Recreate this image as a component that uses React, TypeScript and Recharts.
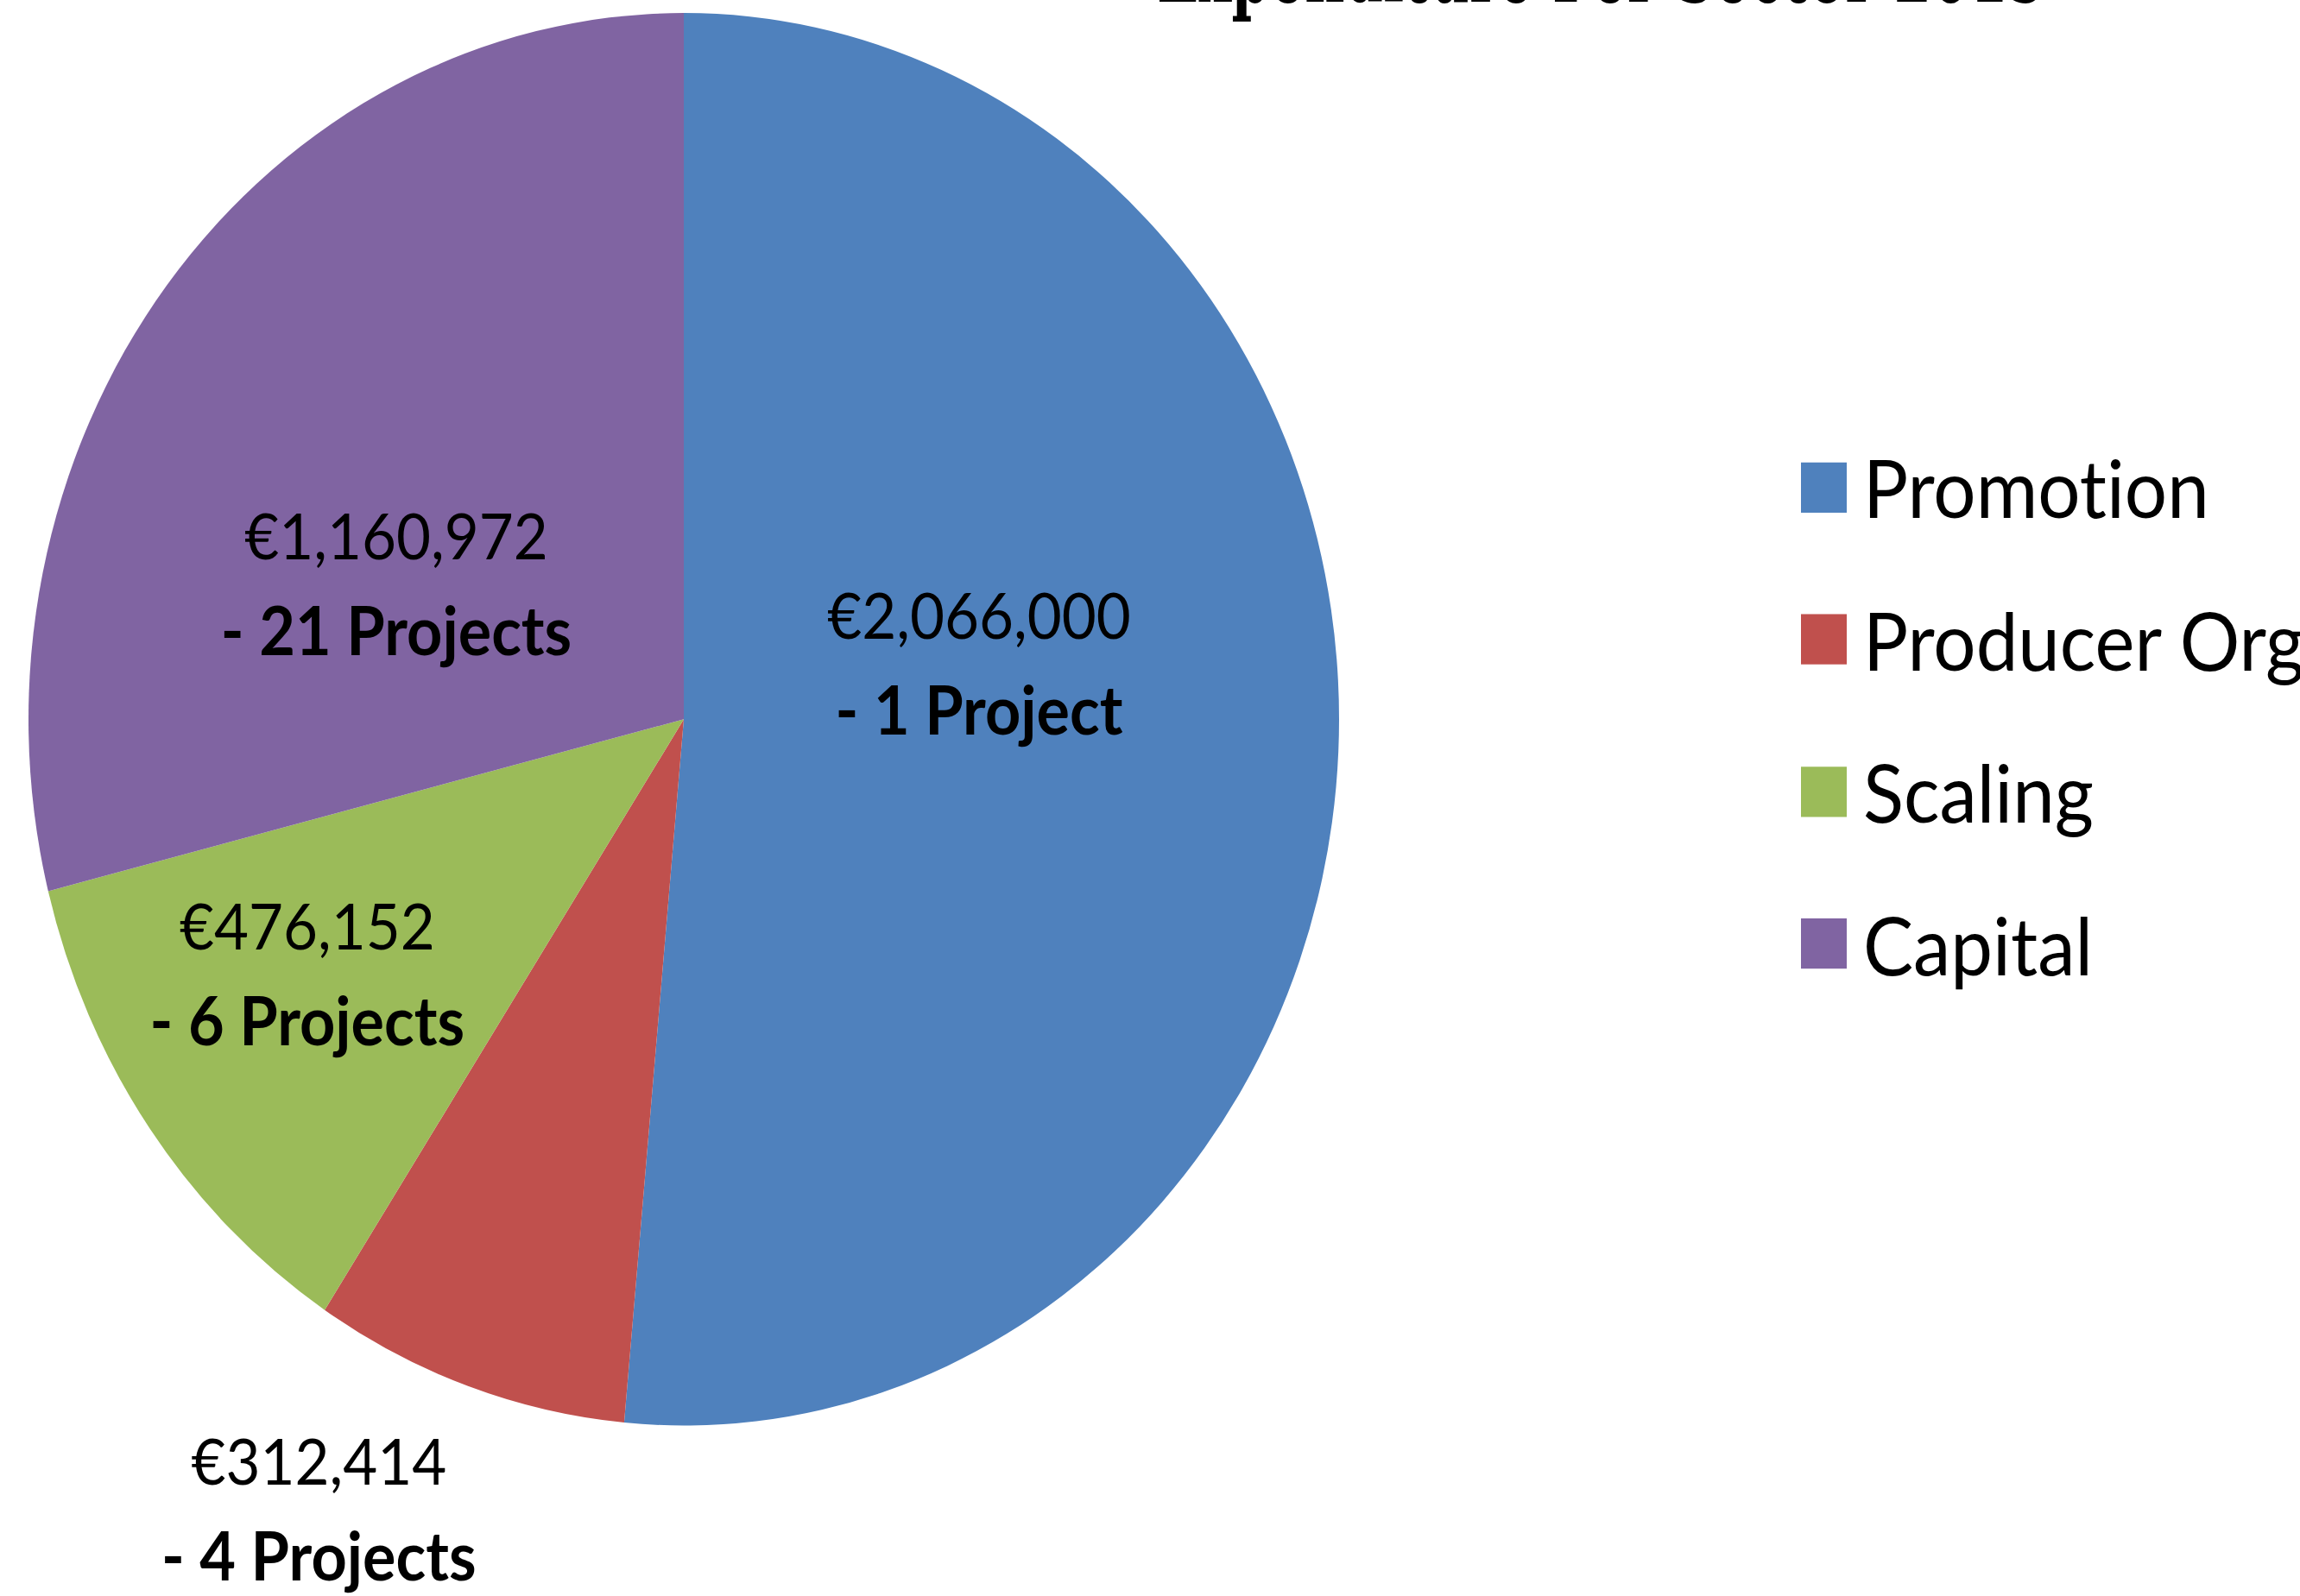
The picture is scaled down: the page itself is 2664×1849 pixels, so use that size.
import React from 'react';
import { PieChart, Pie, Cell, Legend } from 'recharts';

const categories = ['Promotion', 'Producer Org', 'Scaling', 'Capital'];
const amounts = [2066000, 312414, 476152, 1160972];
const projects = [1, 4, 6, 21];
const colors = ['#4F81BD', '#C0504D', '#9BBB59', '#8064A2'];
const titleText = 'Expenditure Per Sector 2015';

const data = categories.map((name, i) => ({ name, value: amounts[i], projects: projects[i] }));

// label placement tweaks (angle shift in degrees, radius factor)
const labelLayout = [
  { da: 12.9, rf: 0.458 },
  { da: -7.3, rf: 1.247 },
  { da: -3.5, rf: 0.677 },
  { da: 14, rf: 0.48 },
];

const RAD = Math.PI / 180;
const FONT = 'Lato, "Open Sans", sans-serif';

const renderLabel = (props: any) => {
  const { cx, cy, midAngle, outerRadius, index, payload } = props;
  const lay = labelLayout[index];
  const a = (midAngle + lay.da) * RAD;
  const r = outerRadius * lay.rf;
  const x = cx + r * Math.cos(-a);
  const y = cy + r * Math.sin(-a);
  const v = payload.value ?? amounts[index];
  const n = payload.projects ?? projects[index];
  return (
    <g style={{ fontVariantLigatures: 'none' }}>
      <text x={x} y={y - 51} textAnchor="middle" dominantBaseline="central" fontFamily={FONT} fontSize={69} fill="#000">
        {'€' + Number(v).toLocaleString('en-US')}
      </text>
      <text x={x} y={y + 51} textAnchor="middle" dominantBaseline="central" fontFamily={FONT} fontWeight={700} fontSize={72} fill="#000">
        {`- ${n} Project${n === 1 ? '' : 's'}`}
      </text>
    </g>
  );
};

const renderLegend = (props: any) => {
  const payload = [...(props.payload || [])].sort(
    (a: any, b: any) => categories.indexOf(a.value) - categories.indexOf(b.value)
  );
  return (
    <div>
      {payload.map((entry: any, i: number) => (
        <div key={i} style={{ height: 163.5, display: 'flex', alignItems: 'center' }}>
          <div style={{ width: 53, height: 54, background: entry.color, marginRight: 19, flex: 'none' }} />
          <span style={{ fontFamily: FONT, fontSize: 87, color: '#000', whiteSpace: 'nowrap', lineHeight: 1, fontVariantLigatures: 'none' }}>{entry.value}</span>
        </div>
      ))}
    </div>
  );
};

export default function App() {
  return (
    <div style={{ position: 'fixed', left: 0, top: 0, width: 2664, height: 1849, overflow: 'hidden', background: '#fff' }}>
      <style>{'html,body{margin:0;padding:0;}'}</style>
      <div style={{ position: 'absolute', left: 0, top: 0, width: 2664, height: 1715, transform: 'scaleY(1.078)', transformOrigin: '0 0' }}>
        <svg width={2664} height={60} style={{ position: 'absolute', left: 0, top: 0 }}>
          <text x={1340} y={2} textLength={1030} lengthAdjust="spacingAndGlyphs" fontFamily='"DejaVu Serif", serif' fontWeight={700} fontSize={100} fill="#000">
            {titleText}
          </text>
        </svg>
        <PieChart width={2664} height={1715} style={{ position: 'absolute', left: 0, top: 0 }}>
          <Pie
            data={data}
            dataKey="value"
            nameKey="name"
            cx={787}
            cy={768}
            outerRadius={759}
            startAngle={90}
            endAngle={-270}
            stroke="none"
            label={renderLabel}
            labelLine={false}
            isAnimationActive={false}
          >
            {data.map((d, i) => (
              <Cell key={d.name} fill={colors[i]} />
            ))}
          </Pie>
          <Legend
            layout="vertical"
            content={renderLegend}
            wrapperStyle={{ position: 'absolute', left: 2086, top: 442, width: 578 }}
          />
        </PieChart>
      </div>
    </div>
  );
}
